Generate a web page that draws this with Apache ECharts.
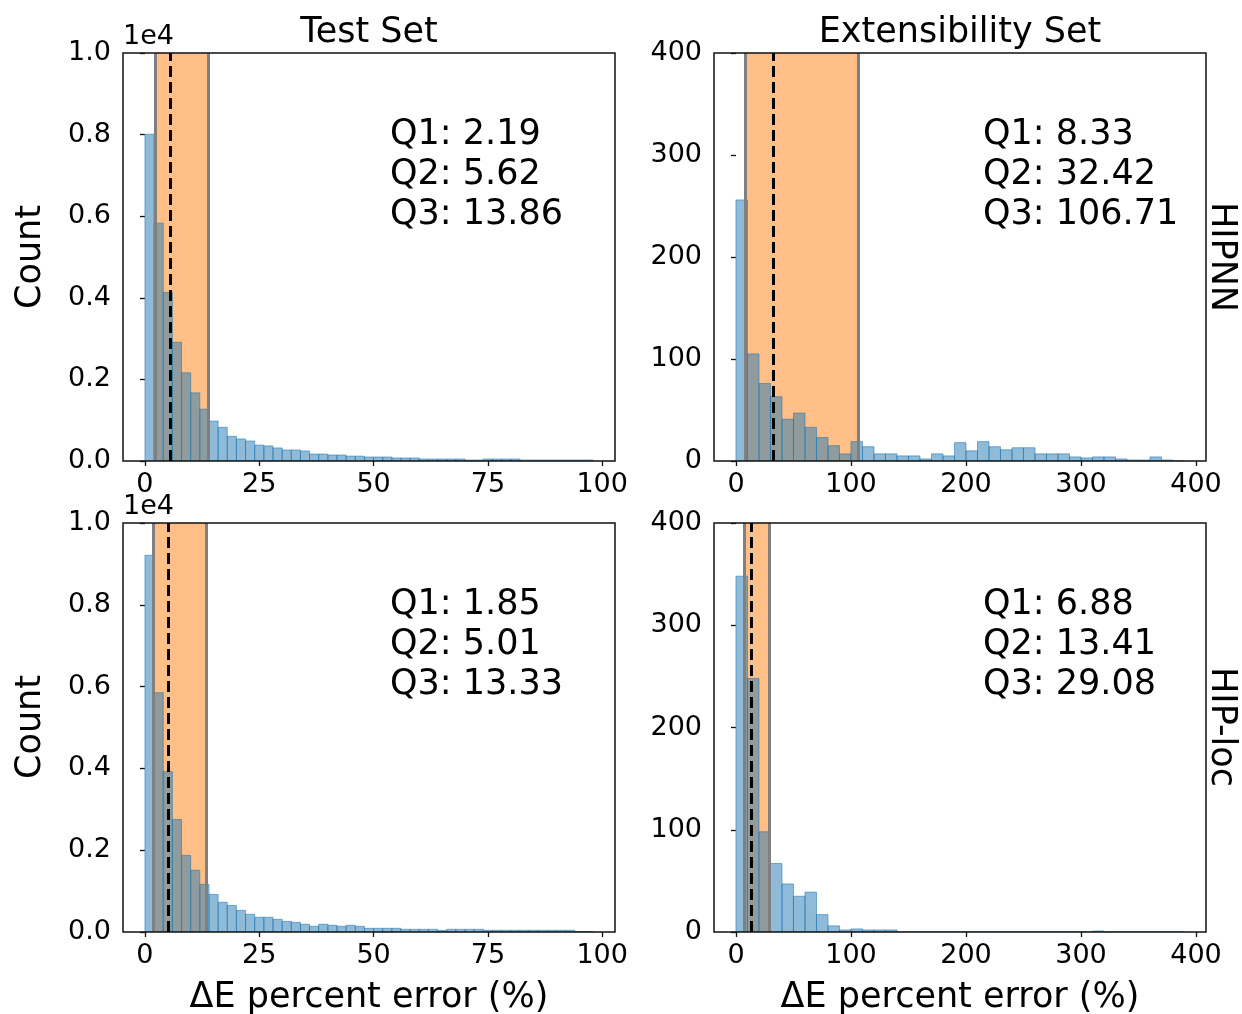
<!DOCTYPE html>
<html>
<head>
<meta charset="utf-8">
<script src="https://cdn.jsdelivr.net/npm/echarts@6/dist/echarts.min.js"></script>
<style>
  html, body { margin: 0; padding: 0; background: #fff; }
  #chart { width: 1242px; height: 1014px; }
</style>
</head>
<body>
<div id="chart"></div>
<script>
// histogram counts
// test set: bins of width 2 starting at 0
const testBinWidth = 2;
const testHipnn = [8010, 5830, 4130, 2910, 2160, 1670, 1270, 980, 825, 605, 540, 490, 390, 370, 320, 270, 270, 245, 170, 170,
    147, 147, 120, 120, 98, 98, 98, 74, 74, 74, 49, 49, 49, 49, 49, 25, 25, 49, 49, 49, 49, 25, 25, 25, 25, 25, 25, 25, 25];
const testHiploc = [9210, 5850, 3920, 2750, 1875, 1510, 1166, 920, 727, 650, 530, 433, 360, 360, 310, 260, 237, 190, 140, 190,
    165, 140, 165, 140, 90, 90, 90, 90, 66, 66, 66, 66, 40, 66, 66, 66, 66, 42, 42, 42, 42, 42, 42, 42, 42, 42, 42, 8, 8];
// extensibility set: bins of width 10 starting at 0
const extBinWidth = 10;
const extHipnn = [256, 105, 76, 63, 41, 47, 33, 23, 15, 7, 19, 14, 7, 7, 5, 5, 2, 7, 5, 18,
    10, 19, 14, 11, 13, 13, 7, 7, 7, 4, 3, 4, 4, 2, 1, 1, 4, 1, 0];
const extHiploc = [348, 248, 98, 67, 47, 35, 39, 17, 6, 2, 3, 2, 2, 2, 0, 0, 0, 0, 0, 0,
    0, 0, 0, 0, 0, 0, 0, 0, 0, 0, 0, 1, 0, 0, 0, 0, 0, 0, 0];

// quartiles [Q1, Q2, Q3]
const quartTestHipnn = [2.19, 5.62, 13.86];
const quartExtHipnn = [8.33, 32.42, 106.71];
const quartTestHiploc = [1.85, 5.01, 13.33];
const quartExtHiploc = [6.88, 13.41, 29.08];

const testTicks = [0, 25, 50, 75, 100];
const extTicks = [0, 100, 200, 300, 400];

const colTitles = ['Test Set', 'Extensibility Set'];
const rowTitles = ['HIPNN', 'HIP-loc'];
const xLabel = 'ΔE percent error (%)';

const FONT = 'DejaVu Sans';
const TICK_SIZE = 27;
const BIG_SIZE = 35;

const chart = echarts.init(document.getElementById('chart'));

function toBins(counts, width) {
    return counts.map((c, i) => [i * width, (i + 1) * width, c]);
}

const grids = [
    {left: 123, top: 53, width: 492, height: 408},
    {left: 714, top: 53, width: 492, height: 408},
    {left: 123, top: 523, width: 492, height: 409},
    {left: 714, top: 523, width: 492, height: 409}
].map(g => Object.assign(g, {
    show: true, z: 10, backgroundColor: 'rgba(0,0,0,0)',
    borderColor: '#111', borderWidth: 1.5
}));

function xAxisFor(idx, min, max, ticks) {
    return {
        type: 'value', gridIndex: idx, min: min, max: max,
        splitLine: {show: false},
        axisLine: {show: false},
        axisTick: {show: true, length: 5, lineStyle: {color: '#111', width: 1.3}, customValues: ticks},
        axisLabel: {
            fontSize: TICK_SIZE, fontFamily: FONT, color: '#000', margin: 10, customValues: ticks,
            formatter: v => String(v)
        }
    };
}

function yAxisFor(idx, max, interval, scaled) {
    return {
        type: 'value', gridIndex: idx, min: 0, max: max, interval: interval,
        splitLine: {show: false},
        axisLine: {show: false},
        axisTick: {show: true, length: 5, lineStyle: {color: '#111', width: 1.3}},
        axisLabel: {
            fontSize: TICK_SIZE, fontFamily: FONT, color: '#000', margin: 12,
            formatter: v => scaled ? (v / 10000).toFixed(1) : String(v)
        }
    };
}

function panelSeries(idx, counts, width, quart) {
    return [
        {
            // interquartile band + Q1/Q3 edges
            type: 'line', xAxisIndex: idx, yAxisIndex: idx, data: [], z: 1,
            markArea: {
                silent: true,
                itemStyle: {color: 'rgba(255,127,14,0.5)'},
                data: [[{xAxis: quart[0]}, {xAxis: quart[2]}]]
            },
            markLine: {
                silent: true, symbol: 'none', label: {show: false},
                lineStyle: {color: '#808080', width: 3, type: 'solid'},
                data: [{xAxis: quart[0]}, {xAxis: quart[2]}]
            }
        },
        {
            type: 'custom', xAxisIndex: idx, yAxisIndex: idx, z: 3, clip: true,
            encode: {x: [0, 1], y: 2},
            data: toBins(counts, width),
            renderItem: function (params, api) {
                const p0 = api.coord([api.value(0), api.value(2)]);
                const p1 = api.coord([api.value(1), 0]);
                return {
                    type: 'rect',
                    shape: {x: p0[0], y: p0[1], width: p1[0] - p0[0], height: p1[1] - p0[1]},
                    style: {fill: 'rgba(31,119,180,0.5)', stroke: 'rgba(31,119,180,0.55)', lineWidth: 1}
                };
            }
        },
        {
            // median
            type: 'line', xAxisIndex: idx, yAxisIndex: idx, data: [], z: 5,
            markLine: {
                silent: true, symbol: 'none', label: {show: false},
                lineStyle: {color: '#000', width: 3, type: [11, 5]},
                data: [{xAxis: quart[1]}]
            }
        }
    ];
}

const txt = (text, x, y, size, extra) => Object.assign({
    type: 'text', x: x, y: y, z: 20,
    style: Object.assign({
        text: text, fontSize: size, fontFamily: FONT, fill: '#000',
        textAlign: 'center', textVerticalAlign: 'middle'
    }, extra || {})
});

function quartText(q, left, y0) {
    return ['Q1: ', 'Q2: ', 'Q3: '].map((p, i) =>
        txt(p + q[i].toFixed(2), left, y0 + i * 40, BIG_SIZE, {textAlign: 'left'}));
}

const option = {
    animation: false,
    backgroundColor: '#fff',
    grid: grids,
    xAxis: [
        xAxisFor(0, -4.8, 102.8, testTicks),
        xAxisFor(1, -19.1, 408.7, extTicks),
        xAxisFor(2, -4.8, 102.8, testTicks),
        xAxisFor(3, -19.1, 408.7, extTicks)
    ],
    yAxis: [
        yAxisFor(0, 10000, 2000, true),
        yAxisFor(1, 400, 100, false),
        yAxisFor(2, 10000, 2000, true),
        yAxisFor(3, 400, 100, false)
    ],
    series: [].concat(
        panelSeries(0, testHipnn, testBinWidth, quartTestHipnn),
        panelSeries(1, extHipnn, extBinWidth, quartExtHipnn),
        panelSeries(2, testHiploc, testBinWidth, quartTestHiploc),
        panelSeries(3, extHiploc, extBinWidth, quartExtHiploc)
    ),
    graphic: [
        txt(colTitles[0], 369, 33, BIG_SIZE),
        txt(colTitles[1], 960, 33, BIG_SIZE),
        txt('1e4', 123, 37, TICK_SIZE, {textAlign: 'left'}),
        txt('1e4', 123, 507, TICK_SIZE, {textAlign: 'left'}),
        Object.assign(txt('Count', 31, 257, BIG_SIZE), {rotation: Math.PI / 2}),
        Object.assign(txt('Count', 31, 727, BIG_SIZE), {rotation: Math.PI / 2}),
        Object.assign(txt(rowTitles[0], 1221, 257, BIG_SIZE), {rotation: -Math.PI / 2}),
        Object.assign(txt(rowTitles[1], 1221, 727, BIG_SIZE), {rotation: -Math.PI / 2}),
        txt(xLabel, 369, 998, BIG_SIZE),
        txt(xLabel, 960, 998, BIG_SIZE)
    ].concat(
        quartText(quartTestHipnn, 390, 135),
        quartText(quartExtHipnn, 983, 135),
        quartText(quartTestHiploc, 390, 605),
        quartText(quartExtHiploc, 983, 605)
    )
};

chart.setOption(option);
</script>
</body>
</html>
